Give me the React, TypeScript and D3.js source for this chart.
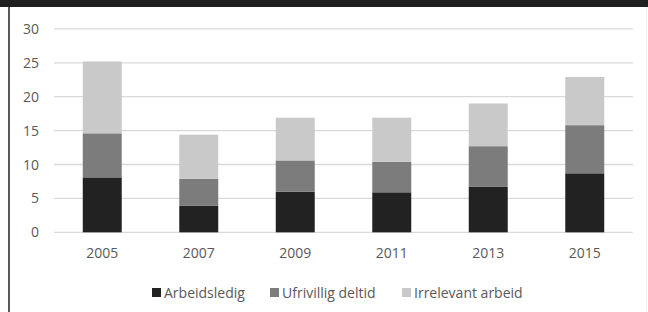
import React from "react";
import * as d3 from "d3";

const years = ["2005", "2007", "2009", "2011", "2013", "2015"];
const arbeidsledig = [8.1, 3.9, 6.0, 5.9, 6.7, 8.7];
const ufrivillig = [6.5, 4.0, 4.6, 4.5, 6.0, 7.1];
const irrelevant = [10.6, 6.5, 6.3, 6.5, 6.3, 7.1];
const seriesNames = ["Arbeidsledig", "Ufrivillig deltid", "Irrelevant arbeid"];
const colors = ["#222222", "#7c7c7c", "#c9c9c9"];
const yTicks = [0, 5, 10, 15, 20, 25, 30];

const W = 648, H = 312;
const FONT = "'Open Sans', Lato, sans-serif";

export default function App() {
  const x = d3.scaleBand<string>().domain(years).range([54, 633]).paddingInner(0.596).paddingOuter(0.298);
  const y = d3.scaleLinear().domain([0, 30]).range([232.3, 28.9]);
  const rows = years.map((yr, i) => ({ year: yr, a: arbeidsledig[i], b: ufrivillig[i], c: irrelevant[i] }));
  const stack = d3.stack<any>().keys(["a", "b", "c"])(rows);
  const legendX = [152, 270, 402];

  return (
    <svg width={W} height={H} style={{ position: "fixed", left: 0, top: 0, background: "#fff" }} fontFamily={FONT}>
      <rect x={0} y={0} width={W} height={H} fill="#fff" />
      <rect x={0} y={0} width={W} height={7} fill="#1f1f1f" />
      <rect x={8} y={7} width={2} height={H - 7} fill="#5a5a5a" />
      <rect x={646} y={7} width={1} height={H - 7} fill="#eeeeee" />
      {yTicks.map((t) => (
        <g key={t}>
          <line x1={54} x2={633} y1={y(t)} y2={y(t)} stroke="#d9d9d9" strokeWidth={1.3} />
          <text x={39} y={y(t)} dy="0.36em" textAnchor="end" fontSize={14} fill="#595959">{t}</text>
        </g>
      ))}
      {stack.map((s, si) => (
        <g key={si} fill={colors[si]}>
          {s.map((d, i) => (
            <rect key={i} x={x(years[i])} width={x.bandwidth()} y={y(d[1])} height={y(d[0]) - y(d[1])} />
          ))}
        </g>
      ))}
      {years.map((yr) => (
        <text key={yr} x={(x(yr) as number) + x.bandwidth() / 2} y={258} textAnchor="middle" fontSize={14} fill="#595959">{yr}</text>
      ))}
      {seriesNames.map((n, i) => (
        <g key={n}>
          <rect x={legendX[i]} y={288} width={9} height={9} fill={colors[i]} />
          <text x={legendX[i] + 12} y={297.5} fontSize={14} fill="#595959">{n}</text>
        </g>
      ))}
    </svg>
  );
}
